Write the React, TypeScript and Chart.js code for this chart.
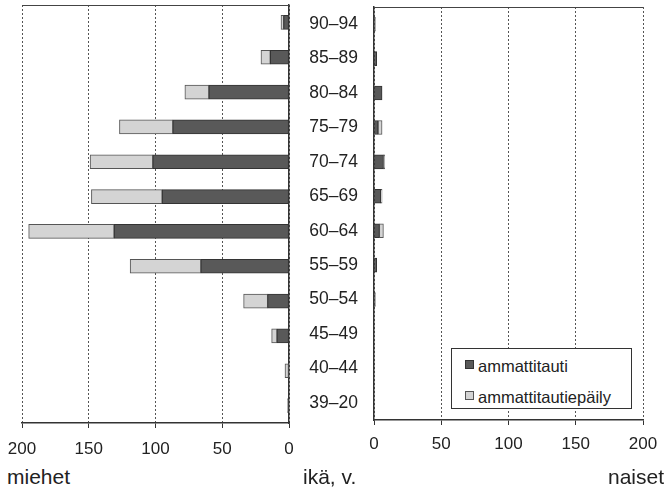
import React, { useEffect, useRef } from "react";
import { Chart, registerables } from "chart.js";

Chart.register(...registerables);

const ageGroups = ["90–94", "85–89", "80–84", "75–79", "70–74", "65–69", "60–64", "55–59", "50–54", "45–49", "40–44", "39–20"];
const menDisease = [4, 14, 60, 87, 102, 95, 131, 66, 16, 9, 0, 1];
const menSuspected = [2, 7, 18, 40, 47, 53, 64, 53, 18, 4, 3, 0];
const womenDisease = [1, 2, 6, 3, 7, 5, 4, 2, 1, 0, 0, 0];
const womenSuspected = [0, 0, 0, 3, 1, 1, 3, 0, 0, 0, 0, 0];
const seriesLabels = ["ammattitauti", "ammattitautiepäily"];
const axisMax = 200;
const axisStep = 50;

const FONT = "'Liberation Sans', Arial, Helvetica, sans-serif";
const DARK = "#595959";
const DARK_BORDER = "#333333";
const LIGHT = "#d4d4d4";
const LIGHT_BORDER = "#555555";

const topBorder = {
  id: "topBorder",
  afterDraw(chart: any) {
    const { ctx, chartArea } = chart;
    ctx.save();
    ctx.strokeStyle = "#444";
    ctx.lineWidth = 1;
    const y = Math.round(chartArea.top) + 0.5;
    ctx.beginPath();
    ctx.moveTo(chartArea.left, y);
    ctx.lineTo(chartArea.right, y);
    ctx.stroke();
    ctx.restore();
  },
};

function makeConfig(dark: number[], light: number[], side: "left" | "right"): any {
  const isLeft = side === "left";
  return {
    type: "bar",
    data: {
      labels: ageGroups,
      datasets: [
        {
          label: seriesLabels[0],
          data: dark,
          backgroundColor: DARK,
          borderColor: DARK_BORDER,
          borderWidth: 1,
          borderSkipped: false,
          barThickness: 14,
        },
        {
          label: seriesLabels[1],
          data: light,
          backgroundColor: LIGHT,
          borderColor: LIGHT_BORDER,
          borderWidth: 1,
          borderSkipped: false,
          barThickness: 14,
        },
      ],
    },
    options: {
      indexAxis: "y",
      animation: false,
      responsive: false,
      devicePixelRatio: 1,
      layout: {
        padding: isLeft
          ? { left: 22, right: 11, top: 5, bottom: 0 }
          : { left: 0, right: 24, top: 7, bottom: 0 },
      },
      plugins: {
        legend: { display: false },
        tooltip: { enabled: false },
      },
      scales: {
        x: {
          type: "linear",
          stacked: true,
          min: 0,
          max: axisMax,
          reverse: isLeft,
          position: "bottom",
          afterFit: (s: any) => {
            s.height = isLeft ? 39 : 40;
            s.paddingLeft = 0;
            s.paddingRight = 0;
          },
          ticks: {
            stepSize: axisStep,
            font: { family: FONT, size: 17 },
            color: "#222",
            padding: isLeft ? 11 : 9,
            maxRotation: 0,
          },
          grid: {
            display: true,
            drawOnChartArea: true,
            drawTicks: true,
            color: "#555",
            lineWidth: 1,
            tickLength: 5,
            tickColor: "#333",
            tickBorderDash: [],
          },
          border: { display: true, color: "#333", width: 1.5, dash: [2, 2] },
        },
        y: {
          type: "category",
          stacked: true,
          position: isLeft ? "right" : "left",
          afterFit: (s: any) => {
            s.width = isLeft ? 0 : 84;
            s.paddingTop = 0;
            s.paddingBottom = 0;
          },
          ticks: {
            display: !isLeft,
            font: { family: FONT, size: 17.5 },
            color: "#222",
            padding: 16,
          },
          grid: { display: false, drawTicks: false },
          border: { display: true, color: "#333", width: 1.5 },
        },
      },
    },
    plugins: [topBorder],
  };
}

function PyramidHalf(props: { dark: number[]; light: number[]; side: "left" | "right"; style: any; width: number; height: number }) {
  const ref = useRef<HTMLCanvasElement | null>(null);
  useEffect(() => {
    if (!ref.current) return;
    const chart = new Chart(ref.current, makeConfig(props.dark, props.light, props.side));
    return () => chart.destroy();
  }, []);
  return <canvas ref={ref} width={props.width} height={props.height} style={{ position: "absolute", ...props.style }} />;
}

const textStyle: any = {
  position: "absolute",
  fontFamily: FONT,
  fontSize: 21,
  lineHeight: "21px",
  color: "#222",
  whiteSpace: "nowrap",
};

const legendText: any = {
  position: "absolute",
  left: 26,
  fontFamily: FONT,
  fontSize: 16.5,
  lineHeight: "16.5px",
  color: "#222",
  whiteSpace: "nowrap",
};

export default function App() {
  return (
    <div style={{ position: "fixed", left: 0, top: 0, width: 667, height: 488, background: "#fff", overflow: "hidden" }}>
      <PyramidHalf dark={menDisease} light={menSuspected} side="left" width={300} height={462} style={{ left: 0, top: 0, width: 300, height: 462 }} />
      <PyramidHalf dark={womenDisease} light={womenSuspected} side="right" width={377} height={460} style={{ left: 290, top: 0, width: 377, height: 460 }} />
      <div
        style={{
          position: "absolute",
          left: 451,
          top: 348,
          width: 181,
          height: 61,
          boxSizing: "border-box",
          border: "1px solid #333",
          background: "#fff",
        }}
      >
        <div style={{ position: "absolute", left: 13, top: 11, width: 9, height: 9, boxSizing: "border-box", border: `1px solid ${DARK_BORDER}`, background: DARK }} />
        <div style={{ ...legendText, top: 9 }}>{seriesLabels[0]}</div>
        <div style={{ position: "absolute", left: 13, top: 42, width: 9, height: 9, boxSizing: "border-box", border: `1px solid ${LIGHT_BORDER}`, background: LIGHT }} />
        <div style={{ ...legendText, top: 40 }}>{seriesLabels[1]}</div>
      </div>
      <div style={{ ...textStyle, left: 7, top: 466 }}>miehet</div>
      <div style={{ ...textStyle, left: 303, top: 466 }}>ikä, v.</div>
      <div style={{ ...textStyle, right: 3, top: 466 }}>naiset</div>
    </div>
  );
}
